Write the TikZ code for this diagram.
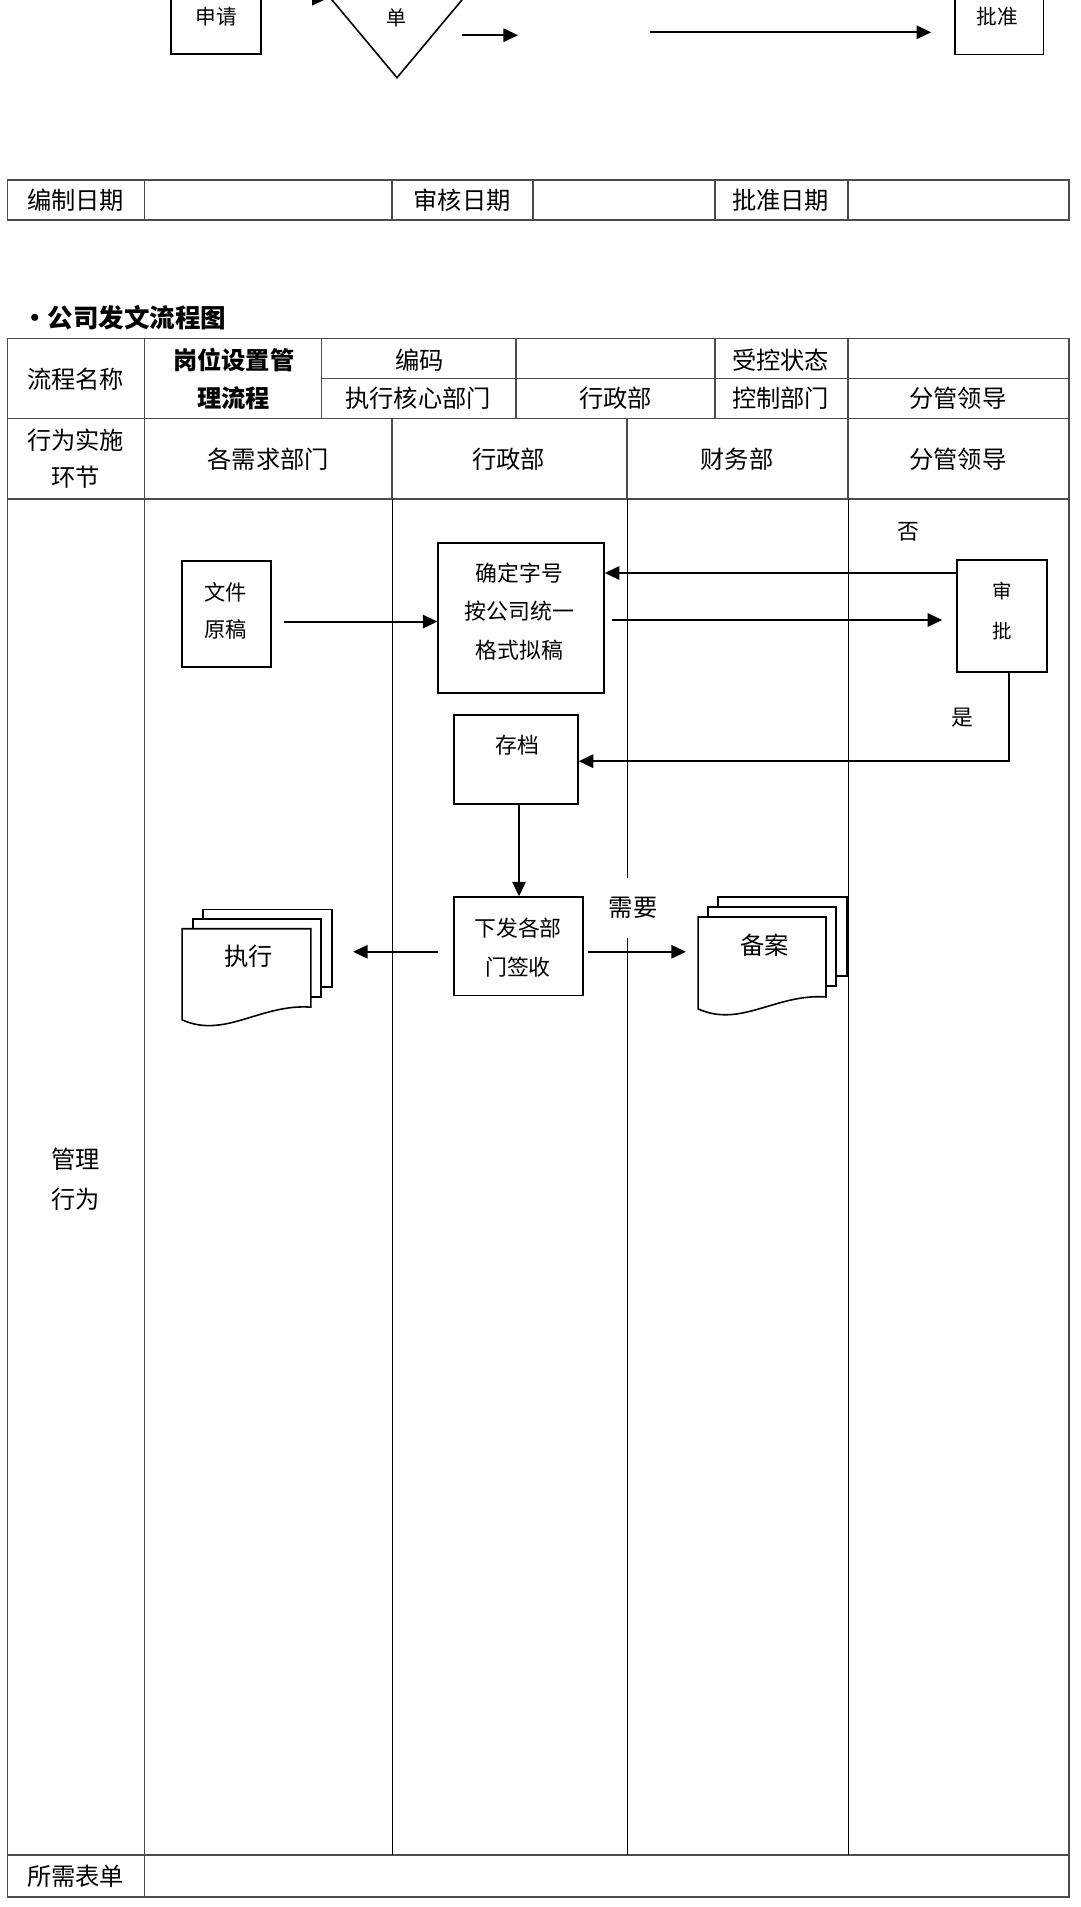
\documentclass[tikz,border=0pt]{standalone}
\usepackage{fontspec}
\setmainfont{Noto Sans CJK SC}
\usetikzlibrary{arrows.meta}
\tikzset{
  tline/.style={line width=1.1pt, draw=black!70},
  lane/.style={line width=0.8pt, draw=black},
  box/.style={draw=black, line width=1.4pt, rectangle, inner sep=0pt, fill=white},
  docline/.style={draw=black, line width=1.3pt, fill=white},
  shapeline/.style={draw=black, line width=1.3pt},
  arr/.style={line width=1.5pt, -{Triangle[length=12pt,width=11pt]}},
  cell/.style={font=\fontsize{20}{24}\selectfont, inner sep=0pt},
  bcell/.style={font=\fontsize{20}{24}\selectfont\bfseries, inner sep=0pt},
  ftxt/.style={font=\fontsize{18}{31.7}\selectfont, align=center, inner sep=0pt},
  lbl/.style={font=\fontsize{18}{22}\selectfont, inner sep=0pt},
}
\newcommand{\mdocfront}[5]{%
  \filldraw[docline] (#1,#2) -- (#3,#2) -- (#3,#5)
    .. controls ({#1+0.61*(#3-#1)},{#5-3}) and ({#1+0.33*(#3-#1)},{#4+16}) .. (#1,#4) -- cycle;}
\begin{document}
\begin{tikzpicture}[x=1pt,y=-1pt]
\useasboundingbox (0,0) rectangle (889.6,1570.8);
\clip (0,0) rectangle (889.6,1570.8);
\fill[white] (0,0) rectangle (889.6,1570.8);

% ---------- top (cut-off) flowchart ----------
\node[box, minimum width=74, minimum height=65] (sq) at (178,12) {};
\node[ftxt, font=\fontsize{17}{20}\selectfont] (sqt) at (178,14) {申请};
\draw[shapeline] (256.8,-20) -- (327,64) -- (397.2,-20);
\node[ftxt, font=\fontsize{16.5}{20}\selectfont] (dant) at (327,15) {单};
\coordinate (a0s) at (225,-1);
\coordinate (a0e) at (269,-1);
\draw[arr] (a0s) -- (a0e);
\coordinate (a1s) at (380.5,29);
\coordinate (a1e) at (426.7,29);
\draw[arr] (a1s) -- (a1e);
\node[box, minimum width=73.1, minimum height=65] (pz) at (822.95,12.3) {};
\node[ftxt, font=\fontsize{17}{20}\selectfont] (pzt) at (821.5,14) {批准};
\coordinate (a2s) at (535.4,26.6);
\draw[arr, shorten >=18.7pt] (a2s) -- (pz.west |- 0,26.6);

% ---------- date table ----------
\draw[tline] (6.2,148.3) rectangle (880.5,181.2);
\foreach \x in {119,323,439,589,698.6} \draw[tline] (\x,148.3) -- (\x,181.2);
\node[cell] (d1) at (62.3,164.7) {编制日期};
\node[cell] (d2) at (380.7,164.7) {审核日期};
\node[cell] (d3) at (643,164.7) {批准日期};

% ---------- title ----------
\node[font=\fontsize{21}{25}\selectfont\bfseries, anchor=west, inner sep=0pt] (title) at (18,262) {•公司发文流程图};

% ---------- main table ----------
\draw[tline] (6.2,278.7) rectangle (880.5,1562.5);
\draw[tline] (264.6,311.5) -- (880.5,311.5);
\draw[tline] (6.2,344.6) -- (880.5,344.6);
\draw[tline] (6.2,411) -- (880.5,411);
\draw[tline] (6.2,1528) -- (880.5,1528);
\draw[tline] (119,278.7) -- (119,1562.5);
\foreach \x in {264.6,425,589} \draw[tline] (\x,278.7) -- (\x,344.6);
\draw[tline] (698.6,278.7) -- (698.6,411);
\draw[tline] (323,344.6) -- (323,411);
\draw[tline] (516.5,344.6) -- (516.5,411);
\draw[lane] (323,411) -- (323,1528);
\draw[lane] (516.5,411) -- (516.5,1528);
\draw[lane] (698.6,411) -- (698.6,1528);

\node[cell] (h1) at (62.3,312.5) {流程名称};
\node[bcell] (h2) at (192.6,296.5) {岗位设置管};
\node[bcell] (h3) at (192.6,328) {理流程};
\node[cell] (h4) at (345.6,296.5) {编码};
\node[cell] (h5) at (643,296.5) {受控状态};
\node[cell] (h6) at (344.5,328) {执行核心部门};
\node[cell] (h7) at (507,328) {行政部};
\node[cell] (h8) at (643,328) {控制部门};
\node[cell] (h9) at (789,328) {分管领导};
\node[cell] (r1) at (62.3,362.4) {行为实施};
\node[cell] (r2) at (62.3,393) {环节};
\node[cell] (l1) at (221,378) {各需求部门};
\node[cell] (l2) at (419,378) {行政部};
\node[cell] (l3) at (607,378) {财务部};
\node[cell] (l4) at (789,378) {分管领导};
\node[cell] (m1) at (62.5,954.8) {管理};
\node[cell] (m2) at (62.5,987.8) {行为};
\node[cell] (f1) at (62.3,1545.5) {所需表单};

% ---------- flow boxes ----------
\node[box, minimum width=73, minimum height=87.5] (wj) at (186.5,505.75) {};
\node[ftxt, font=\fontsize{17.5}{30.4}\selectfont] (wjt) at (186,503) {文件\\原稿};
\node[box, minimum width=136.5, minimum height=124] (qd) at (429.25,509) {};
\node[ftxt] (qdt) at (428,503.7) {确定字号\\按公司统一\\格式拟稿};
\node[box, minimum width=74.1, minimum height=92.5] (sp) at (825.35,507.25) {};
\node[ftxt, font=\fontsize{16}{33}\selectfont] (spt) at (825.3,503.3) {审\\批};
\node[box, minimum width=102, minimum height=73] (cd) at (425,625.5) {};
\node[ftxt] (cdt) at (426,613.6) {存档};
\node[box, minimum width=106, minimum height=81] (xf) at (427,779.5) {};
\node[ftxt, font=\fontsize{18}{32.1}\selectfont] (xft) at (426.7,780.5) {下发各部\\门签收};

% ---------- multi-documents ----------
\filldraw[docline] (167,749) rectangle (273.5,813);
\filldraw[docline] (159,757) rectangle (264.4,821);
\mdocfront{150}{765}{256}{840}{829.6}
\node[cell] (zx) at (205,787.5) {执行};
\coordinate (zxin) at (290.8,784);

\filldraw[docline] (591.4,739) rectangle (697.7,804);
\filldraw[docline] (583,747) rectangle (688.6,812);
\mdocfront{575}{755.3}{680.4}{831}{821.2}
\node[cell] (ba) at (630,778.4) {备案};
\coordinate (bain) at (565,784);

% ---------- connectors ----------
\draw[arr, shorten <=10pt] (wj.east |- 0,512) -- (qd.west |- 0,512);
\draw[arr, shorten <=5.5pt, shorten >=11.5pt] (qd.east |- 0,510.7) -- (sp.west |- 0,510.7);
\draw[arr] (sp.west |- 0,472) -- (qd.east |- 0,472);
\draw[arr] (sp.south -| 831,0) |- (cd.east |- 0,627);
\draw[arr] (cd.south -| 427.5,0) -- (xf.north -| 427.5,0);
\draw[arr, shorten <=12.4pt] (xf.west |- 0,784) -- (zxin);
\draw[arr, shorten <=4pt] (xf.east |- 0,784) -- (bain);

% ---------- labels ----------
\node[lbl] (no) at (748,438) {否};
\node[lbl] (yes) at (793,591.4) {是};
\node[cell, fill=white, minimum height=50, inner xsep=1pt] (need) at (521.4,748) {需要};
\end{tikzpicture}
\end{document}
